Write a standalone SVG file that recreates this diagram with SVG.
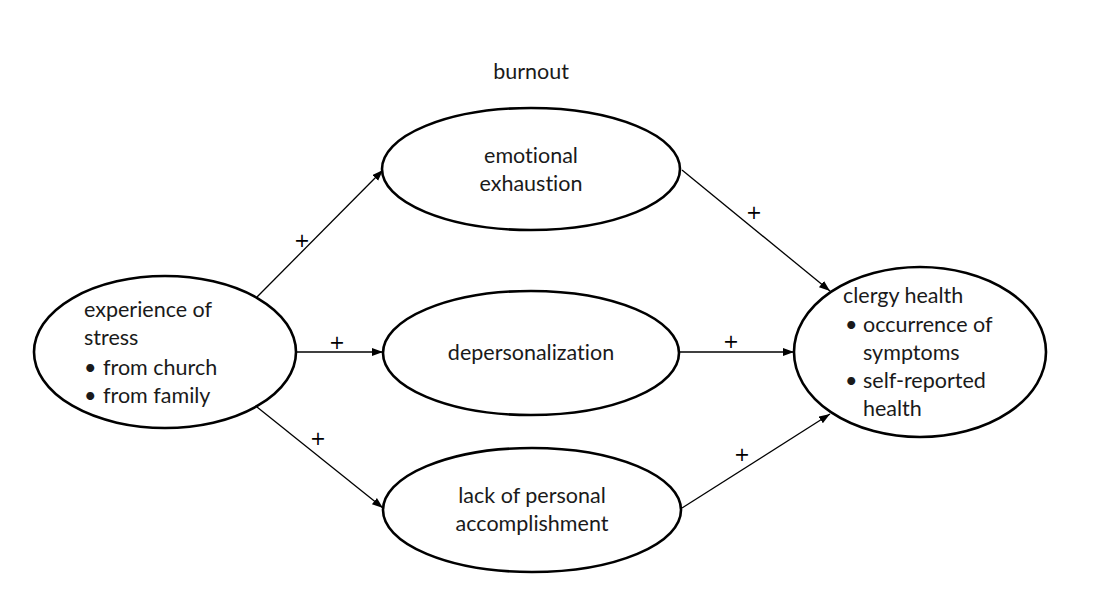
<svg xmlns="http://www.w3.org/2000/svg" width="1115" height="596" viewBox="0 0 1115 596">
<style>
.node{fill:#fff;stroke:#000;stroke-width:2.6}
.t{font-family:Lato,"Open Sans",sans-serif;font-size:21.5px;fill:#1a1a1a;font-variant-ligatures:none}
.c{text-anchor:middle}
.edge{stroke:#000;stroke-width:1.3;fill:none;marker-end:url(#ah)}
.plus{font-family:"DejaVu Sans",sans-serif;font-size:19px;fill:#000;text-anchor:middle}
</style>
<defs>
<marker id="ah" markerWidth="12" markerHeight="10" refX="11" refY="4" orient="auto" markerUnits="userSpaceOnUse">
<path d="M0,0 L11,4 L0,8 Z" fill="#000"/>
</marker>
</defs>
<rect width="1115" height="596" fill="#fff"/>
<text class="t c" x="531" y="79">burnout</text>
<g id="connectors">
<line class="edge" x1="257" y1="297" x2="383" y2="170"/>
<line class="edge" x1="296" y1="352" x2="383" y2="352"/>
<line class="edge" x1="257" y1="407" x2="383" y2="508"/>
<line class="edge" x1="682" y1="170" x2="830" y2="291"/>
<line class="edge" x1="679" y1="352" x2="794" y2="352"/>
<line class="edge" x1="682" y1="508" x2="830" y2="414"/>
<text class="plus" x="302" y="247">+</text>
<text class="plus" x="337" y="349">+</text>
<text class="plus" x="318" y="445">+</text>
<text class="plus" x="754" y="219">+</text>
<text class="plus" x="731" y="348">+</text>
<text class="plus" x="742" y="461">+</text>
</g>
<g id="stress">
<ellipse class="node" cx="165" cy="352" rx="131" ry="76"/>
<text class="t" x="84" y="317">experience of</text>
<text class="t" x="84" y="345">stress</text>
<text class="t" x="84" y="375">•</text>
<text class="t" x="103" y="375">from church</text>
<text class="t" x="84" y="403">•</text>
<text class="t" x="103" y="403">from family</text>
</g>
<g id="emotional">
<ellipse class="node" cx="531" cy="169" rx="149" ry="61"/>
<text class="t c" x="531" y="163">emotional</text>
<text class="t c" x="531" y="191">exhaustion</text>
</g>
<g id="depersonalization">
<ellipse class="node" cx="531" cy="353" rx="148" ry="62"/>
<text class="t c" x="531" y="360">depersonalization</text>
</g>
<g id="accomplishment">
<ellipse class="node" cx="532" cy="510" rx="149" ry="62"/>
<text class="t c" x="532" y="503">lack of personal</text>
<text class="t c" x="532" y="531">accomplishment</text>
</g>
<g id="health">
<ellipse class="node" cx="920" cy="352" rx="126" ry="85"/>
<text class="t" x="843" y="303">clergy health</text>
<text class="t" x="845" y="332">•</text>
<text class="t" x="863" y="332">occurrence of</text>
<text class="t" x="863" y="360">symptoms</text>
<text class="t" x="845" y="388">•</text>
<text class="t" x="863" y="388">self-reported</text>
<text class="t" x="863" y="416">health</text>
</g>
</svg>
